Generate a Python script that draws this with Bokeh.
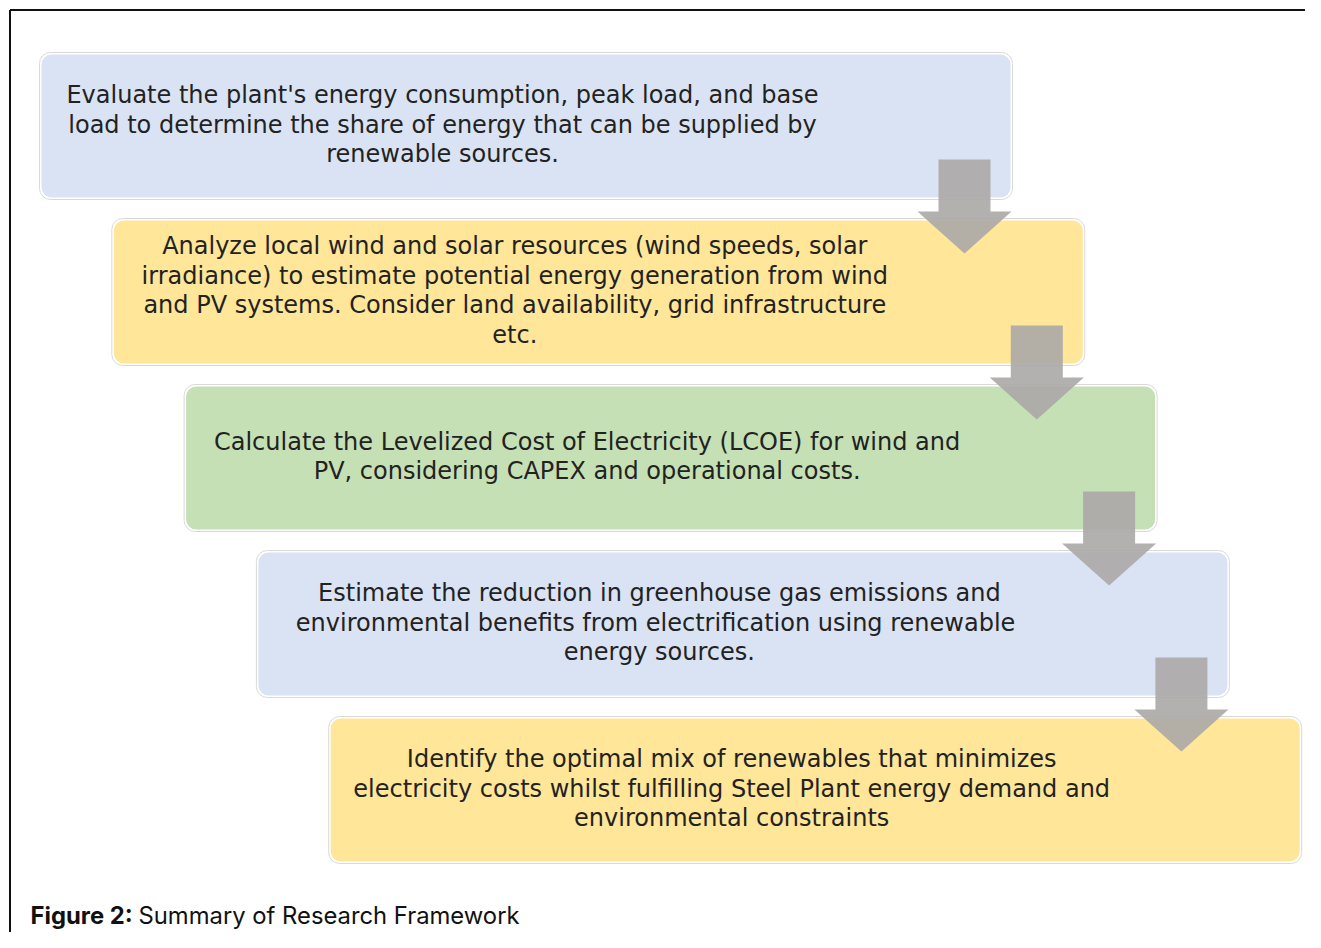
from bokeh.plotting import figure
from bokeh.models import Range1d
from bokeh.core.properties import value
from bokeh.embed import file_html
from bokeh.resources import INLINE

# ---- data ----
steps = [1, 2, 3, 4, 5]
step_lines = [
    ["Evaluate the plant's energy consumption, peak load, and base",
     "load to determine the share of energy that can be supplied by",
     "renewable sources."],
    ["Analyze local wind and solar resources (wind speeds, solar",
     "irradiance) to estimate potential energy generation from wind",
     "and PV systems. Consider land availability, grid infrastructure",
     "etc."],
    ["Calculate the Levelized Cost of Electricity (LCOE) for wind and",
     "PV, considering CAPEX and operational costs."],
    ["Estimate the reduction in greenhouse gas emissions and",
     "environmental benefits from electrification  using renewable",
     "energy sources."],
    ["Identify the optimal mix of renewables that minimizes",
     "electricity costs whilst fulfilling Steel Plant energy demand and",
     "environmental constraints"],
]
step_colors = ["#DAE3F3", "#FFE699", "#C5E0B4", "#DAE3F3", "#FFE699"]
caption_bold = "Figure 2:"
caption_text = "Summary of Research Framework"

# ---- layout (pixels inside the figure) ----
W, H = 1305, 932
X0, Y0 = 40, 53          # first box top-left
DX, DY = 72.3, 166.0     # staircase step
BW, BH = 971, 145        # box size
TEXT_OFF = 402           # text centre from box left
LINE_H = 29.5
FONT = "DejaVu Sans"
FSIZE = "24px"

p = figure(width=W, height=H, x_range=Range1d(0, W), y_range=Range1d(H, 0),
           output_backend="svg", toolbar_location=None, min_border=0,
           outline_line_color=None, background_fill_color="white",
           border_fill_color="white")
p.axis.visible = False
p.grid.visible = False

lefts = [X0 + (s - 1) * DX for s in steps]
tops = [Y0 + (s - 1) * DY for s in steps]
rights = [l + BW for l in lefts]
bottoms = [t + BH for t in tops]

# outer frame (top + left edges visible in reference)
p.line([9.5, W + 20], [9.5, 9.5], line_color="#111111", line_width=2)
p.line([9.5, 9.5], [9.5, H + 20], line_color="#111111", line_width=2)

# boxes: light grey outer edge + white inner rim
p.quad(left=[l - 1 for l in lefts], right=[r + 1 for r in rights],
       top=[t - 1 for t in tops], bottom=[b + 1 for b in bottoms],
       fill_color="#FFFFFF", line_color="#D9D9D9", line_width=1, border_radius=11)
p.quad(left=[l + 1 for l in lefts], right=[r - 1 for r in rights],
       top=[t + 1 for t in tops], bottom=[b - 1 for b in bottoms],
       fill_color=step_colors, line_color=None, border_radius=10)

# text
for lines, l, t, b in zip(step_lines, lefts, tops, bottoms):
    cy = (t + b) / 2 - 1.5
    n = len(lines)
    ys = [cy + (i - (n - 1) / 2) * LINE_H for i in range(n)]
    p.text(x=[l + TEXT_OFF] * n, y=ys, text=lines, text_font=value(FONT),
           text_font_size=FSIZE, text_color="#222222", text_align="center",
           text_baseline="middle")

# arrows between consecutive boxes
axs, ays = [], []
for i in range(len(steps) - 1):
    cx = rights[i] - 47
    st = tops[i] + 106
    hb = bottoms[i] + 13
    tip = bottoms[i] + 55
    axs.append([cx - 26, cx + 26, cx + 26, cx + 47, cx, cx - 47, cx - 26])
    ays.append([st, st, hb, hb, tip, hb, hb])
p.patches(axs, ays, fill_color="#ABA7A7", fill_alpha=0.9, line_color=None)

# caption
p.text(x=[30], y=[915], text=[caption_bold], text_font=value("Inter"),
       text_font_size="23.8px", text_font_style="bold", text_color="#111111",
       text_baseline="middle", text_align="left")
p.text(x=[138], y=[915], text=[caption_text], text_font=value("Inter"),
       text_font_size="23.8px", text_color="#111111",
       text_baseline="middle", text_align="left")

open("out.html", "w").write(file_html(p, INLINE))
